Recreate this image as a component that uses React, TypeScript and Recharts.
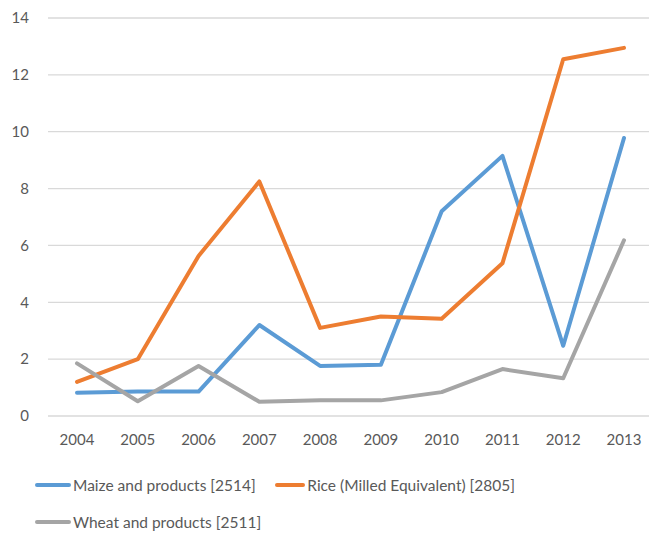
import React from "react";
import { LineChart, Line, XAxis, YAxis, CartesianGrid } from "recharts";

const years = ["2004", "2005", "2006", "2007", "2008", "2009", "2010", "2011", "2012", "2013"];
const maize = [0.82, 0.86, 0.86, 3.2, 1.76, 1.8, 7.2, 9.15, 2.47, 9.78];
const rice = [1.2, 2.0, 5.63, 8.25, 3.1, 3.5, 3.42, 5.37, 12.55, 12.95];
const wheat = [1.85, 0.52, 1.76, 0.5, 0.55, 0.55, 0.84, 1.65, 1.33, 6.18];
const yTicks = [0, 2, 4, 6, 8, 10, 12, 14];

const seriesNames = ["Maize and products [2514]", "Rice (Milled Equivalent) [2805]", "Wheat and products [2511]"];
const seriesColors = ["#5B9BD5", "#ED7D31", "#A5A5A5"];
const seriesKeys = ["maize", "rice", "wheat"];

const data = years.map((y, i) => ({ year: y, maize: maize[i], rice: rice[i], wheat: wheat[i] }));

const FONT = "Lato, 'Open Sans', sans-serif";

export default function App() {
  return (
    <div style={{ position: "absolute", left: 0, top: 0, width: 649, height: 535, background: "#fff", fontFamily: FONT }}>
      <LineChart width={649} height={455} data={data} margin={{ top: 18, right: 0, bottom: 10, left: 0 }}>
        <CartesianGrid vertical={false} stroke="#D9D9D9" strokeWidth={1.3} />
        <XAxis
          dataKey="year"
          axisLine={false}
          tickLine={false}
          tickSize={6}
          tickMargin={12}
          height={29}
          padding={{ left: 29, right: 25 }}
          interval={0}
          tick={{ fill: "#595959", fontSize: 15, fontFamily: FONT }}
        />
        <YAxis
          domain={[0, 14]}
          ticks={yTicks}
          axisLine={false}
          tickLine={false}
          tickSize={6}
          tickMargin={13}
          width={48}
          tick={{ fill: "#595959", fontSize: 15, fontFamily: FONT }}
        />
        {seriesKeys.map((k, i) => (
          <Line
            key={k}
            type="linear"
            dataKey={k}
            name={seriesNames[i]}
            stroke={seriesColors[i]}
            strokeWidth={4}
            dot={false}
            activeDot={false}
            strokeLinejoin="round"
            strokeLinecap="round"
            isAnimationActive={false}
          />
        ))}
      </LineChart>
      <div style={{ position: "absolute", left: 35, top: 473, width: 520, display: "flex", flexWrap: "wrap", rowGap: 13 }}>
        {seriesNames.map((n, i) => (
          <div key={n} style={{ width: 240, height: 24, display: "flex", alignItems: "center", color: "#595959", fontSize: 15.5, whiteSpace: "nowrap" }}>
            <span style={{ display: "inline-block", width: 36, height: 4, borderRadius: 2, background: seriesColors[i], marginRight: 2 }} />
            <span>{n}</span>
          </div>
        ))}
      </div>
    </div>
  );
}
